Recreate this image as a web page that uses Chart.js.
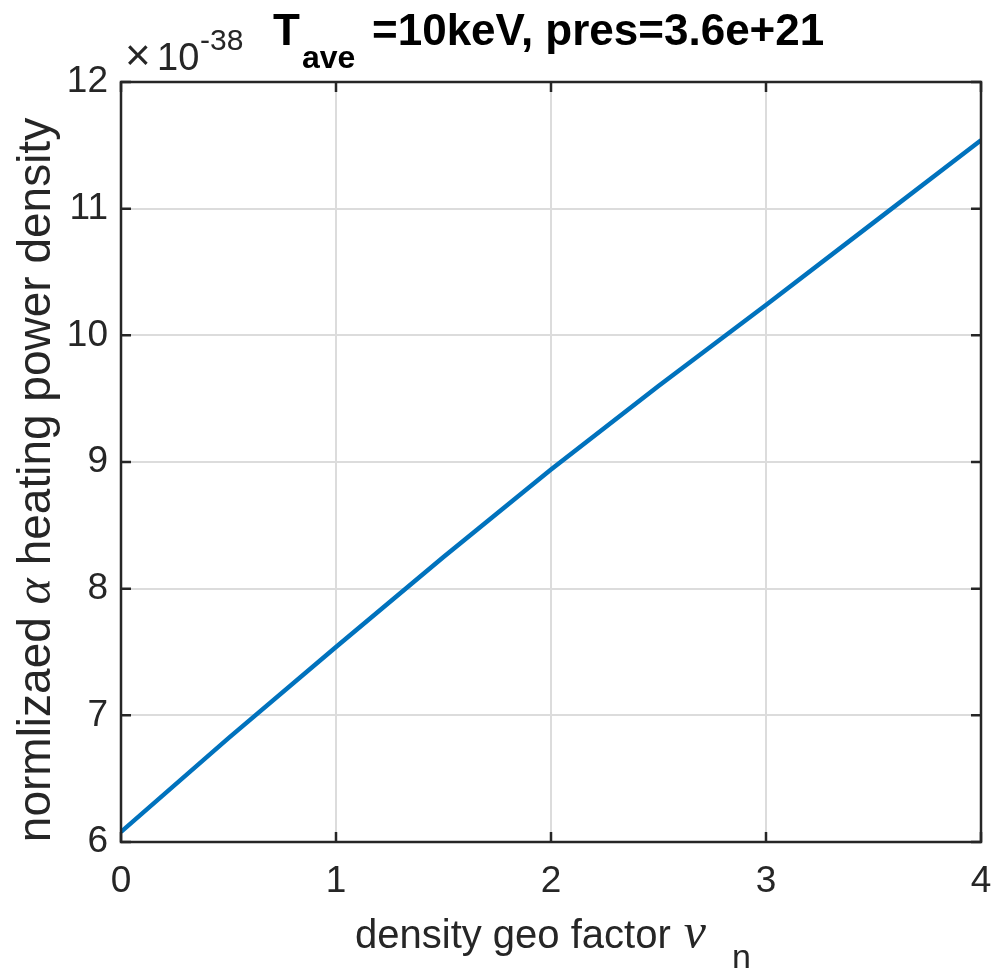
<!DOCTYPE html>
<html>
<head>
<meta charset="utf-8">
<script src="https://cdn.jsdelivr.net/npm/chart.js@4"></script>
<style>
html,body{margin:0;padding:0;background:#fff;}
#wrap{width:995px;height:973px;position:relative;}
</style>
</head>
<body>
<div id="wrap"><canvas id="c" width="995" height="973"></canvas></div>
<script>
// density geo factor nu_n
const xValues = [0, 0.5, 1, 1.5, 2, 2.5, 3, 3.5, 4];
// normalized alpha heating power density (x 1e-38)
const yValues = [6.08, 6.82, 7.54, 8.25, 8.94, 9.60, 10.24, 10.89, 11.54];
const xTicks = [0, 1, 2, 3, 4];
const yTicks = [6, 7, 8, 9, 10, 11, 12];
const titleMain = "T";
const titleSub = "ave";
const titleRest = "=10keV, pres=3.6e+21";
const xLabelMain = "density geo factor ";
const xLabelSym = "\u03BD";
const xLabelSub = "n";
const yLabelA = "normlizaed ";
const yLabelSym = "\u03B1";
const yLabelB = " heating power density";
const exponentText = "-38";

const AX = '#262626';
const SANS = '"Liberation Sans", Arial, Helvetica, sans-serif';
const SERIF = '"Liberation Serif", "DejaVu Serif", serif';

const decor = {
  id: 'decor',
  afterDatasetsDraw(chart) {
    const ctx = chart.ctx;
    const a = chart.chartArea;
    const xs = chart.scales.x, ys = chart.scales.y;
    ctx.save();
    // box
    ctx.strokeStyle = AX;
    ctx.lineWidth = 2.5;
    ctx.strokeRect(a.left, a.top, a.right - a.left, a.bottom - a.top);
    // inward ticks
    const tl = 10;
    ctx.beginPath();
    xTicks.forEach(v => {
      const px = xs.getPixelForValue(v);
      ctx.moveTo(px, a.bottom); ctx.lineTo(px, a.bottom - tl);
      ctx.moveTo(px, a.top); ctx.lineTo(px, a.top + tl);
    });
    yTicks.forEach(v => {
      const py = ys.getPixelForValue(v);
      ctx.moveTo(a.left, py); ctx.lineTo(a.left + tl, py);
      ctx.moveTo(a.right, py); ctx.lineTo(a.right - tl, py);
    });
    ctx.stroke();

    ctx.fillStyle = AX;
    ctx.textBaseline = 'alphabetic';
    ctx.textAlign = 'left';
    // exponent x10^-38
    ctx.font = '44px ' + SANS;
    ctx.fillText('\u00D7', 125, 70);
    ctx.font = '38px ' + SANS;
    ctx.fillText('10', 157, 70);
    ctx.font = '30px ' + SANS;
    ctx.fillText(exponentText, 200, 50);

    // title
    ctx.fillStyle = '#000';
    ctx.font = 'bold 44px ' + SANS;
    ctx.fillText(titleMain, 273, 45);
    ctx.font = 'bold 32px ' + SANS;
    ctx.fillText(titleSub, 302, 68);
    ctx.font = 'bold 44px ' + SANS;
    ctx.fillText(titleRest, 372, 45);

    // x axis label
    ctx.fillStyle = AX;
    ctx.font = '40px ' + SANS;
    const x = 355;
    ctx.fillText(xLabelMain, x, 948);
    const w = ctx.measureText(xLabelMain).width;
    ctx.font = 'italic 50px ' + SERIF;
    ctx.fillText(xLabelSym, x + w + 2, 948);
    const wNu = ctx.measureText(xLabelSym).width;
    ctx.font = '34px ' + SANS;
    ctx.fillText(xLabelSub, x + w + wNu + 28, 968);

    // y axis label (rotated)
    ctx.save();
    ctx.translate(50, 480);
    ctx.rotate(-Math.PI / 2);
    ctx.font = '46px ' + SANS;
    const wa = ctx.measureText(yLabelA).width;
    const wb = ctx.measureText(yLabelB).width;
    ctx.font = 'italic 50px ' + SERIF;
    const wsym = ctx.measureText(yLabelSym).width;
    const total = wa + wsym + wb;
    const sx = -total / 2;
    ctx.font = '46px ' + SANS;
    ctx.fillText(yLabelA, sx, 0);
    ctx.font = 'italic 50px ' + SERIF;
    ctx.fillText(yLabelSym, sx + wa, 0);
    ctx.font = '46px ' + SANS;
    ctx.fillText(yLabelB, sx + wa + wsym, 0);
    ctx.restore();

    ctx.restore();
  }
};

new Chart(document.getElementById('c'), {
  type: 'scatter',
  data: {
    datasets: [{
      data: xValues.map((v, i) => ({x: v, y: yValues[i]})),
      showLine: true,
      borderColor: '#0072BD',
      borderWidth: 4.5,
      pointRadius: 0,
      tension: 0,
      fill: false
    }]
  },
  options: {
    responsive: false,
    animation: false,
    devicePixelRatio: 1,
    layout: {padding: {top: 82, right: 14, left: 0, bottom: 0}},
    plugins: {legend: {display: false}, tooltip: {enabled: false}, title: {display: false}},
    scales: {
      x: {
        type: 'linear', min: 0, max: 4,
        afterFit(s) { s.height = 131; s.paddingLeft = 0; s.paddingRight = 0; },
        afterBuildTicks(s) { s.ticks = xTicks.map(v => ({value: v})); },
        grid: {color: '#dcdcdc', lineWidth: 2, drawTicks: false},
        border: {display: false},
        ticks: {color: AX, font: {size: 37, family: SANS}, padding: 18, maxRotation: 0}
      },
      y: {
        type: 'linear', min: 6, max: 12,
        afterFit(s) { s.width = 121; s.paddingTop = 0; s.paddingBottom = 0; },
        afterBuildTicks(s) { s.ticks = yTicks.map(v => ({value: v})); },
        grid: {color: '#dcdcdc', lineWidth: 2, drawTicks: false},
        border: {display: false},
        ticks: {color: AX, font: {size: 37, family: SANS}, padding: 13}
      }
    }
  },
  plugins: [decor]
});
</script>
</body>
</html>
